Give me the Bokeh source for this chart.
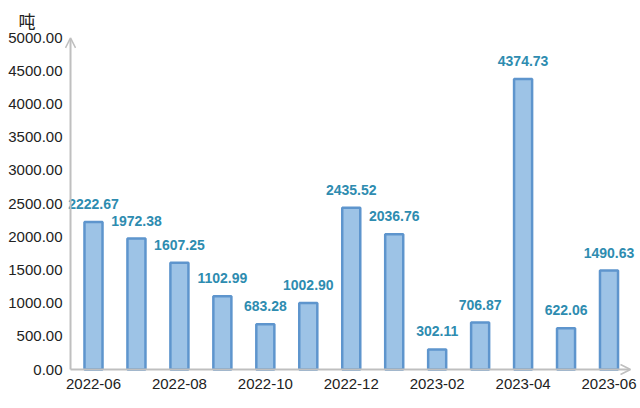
from bokeh.plotting import figure
from bokeh.models import (ColumnDataSource, LabelSet, Arrow, OpenHead,
                          FixedTicker, Range1d)
from bokeh.core.properties import value
from bokeh.embed import file_html
from bokeh.resources import INLINE

months = ["2022-06", "2022-07", "2022-08", "2022-09", "2022-10", "2022-11",
          "2022-12", "2023-01", "2023-02", "2023-03", "2023-04", "2023-05",
          "2023-06"]
values = [2222.67, 1972.38, 1607.25, 1102.99, 683.28, 1002.90,
          2435.52, 2036.76, 302.11, 706.87, 4374.73, 622.06, 1490.63]
y_ticks = [0, 500, 1000, 1500, 2000, 2500, 3000, 3500, 4000, 4500, 5000]
unit = "吨"

FONT = "Liberation Sans"
idx = list(range(len(months)))
src = ColumnDataSource(dict(x=idx, top=values,
                            label=["%.2f" % v for v in values]))

x0 = -0.535
p = figure(width=640, height=408, output_backend="svg", toolbar_location=None,
           x_range=Range1d(-0.675, 12.733), y_range=Range1d(-90, 5000),
           min_border_left=64, min_border_right=0, min_border_top=37,
           min_border_bottom=33, title=unit)
p.outline_line_color = None
p.xgrid.visible = False
p.ygrid.visible = False
p.background_fill_color = "white"
p.border_fill_color = "white"

p.title.align = "left"
p.title.offset = -46
p.title.text_font = "Noto Sans CJK SC"
p.title.text_font_size = "17px"
p.title.text_font_style = "normal"
p.title.text_color = "#222222"
p.title.standoff = 9

p.vbar(x="x", top="top", width=0.42, source=src, fill_color="#9dc3e6",
       line_color="#5e95cd", line_width=2.5)

labels = LabelSet(x="x", y="top", text="label", source=src, y_offset=18,
                  text_align="center", text_baseline="middle",
                  text_font=value(FONT), text_font_size=value("14px"),
                  text_font_style="bold", text_color="#2e8cb0")
p.add_layout(labels)

for ax in (p.xaxis[0], p.yaxis[0]):
    ax.axis_line_color = None
    ax.major_tick_line_color = None
    ax.minor_tick_line_color = None
    ax.major_tick_out = 0
    ax.major_tick_in = 0
    ax.minor_tick_out = 0
    ax.major_label_text_font = FONT
    ax.major_label_text_font_size = "15px"
    ax.major_label_text_color = "#222222"

p.yaxis.ticker = FixedTicker(ticks=y_ticks)
p.yaxis.major_label_overrides = {t: "%.2f" % t for t in y_ticks}
p.yaxis.major_label_standoff = 2

xt = idx[::2]
p.xaxis.ticker = FixedTicker(ticks=xt)
p.xaxis.major_label_overrides = {i: months[i] for i in xt}
p.xaxis.major_label_standoff = 3

p.add_layout(Arrow(end=OpenHead(size=10, line_color="#bfbfbf", line_width=1.5),
                   x_start=x0, y_start=0, x_end=12.5, y_end=0,
                   line_color="#bfbfbf", line_width=2))
p.add_layout(Arrow(end=OpenHead(size=10, line_color="#bfbfbf", line_width=1.5),
                   x_start=x0, y_start=0, x_end=x0, y_end=4995,
                   line_color="#bfbfbf", line_width=2))

open("out.html", "w").write(file_html(p, INLINE))
